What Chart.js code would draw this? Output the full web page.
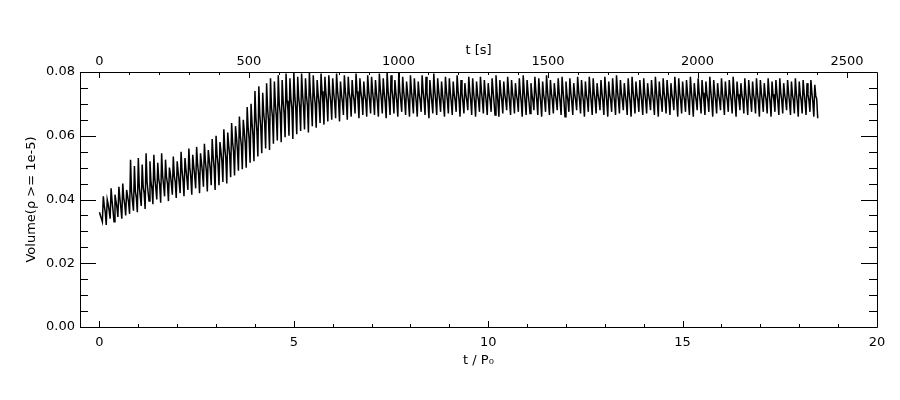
<!DOCTYPE html>
<html>
<head>
<meta charset="utf-8">
<title>Volume vs t / P0</title>
<script src="https://cdn.jsdelivr.net/npm/chart.js@4/dist/chart.umd.min.js"></script>
<style>
  html, body { margin: 0; padding: 0; background: #fff; }
  #wrap { width: 900px; height: 400px; }
</style>
</head>
<body>
<div id="wrap"><canvas id="vol-chart" width="900" height="400"></canvas></div>
<script>
// time between samples, in units of t / P0 (4 samples per oscillation)
const sampleStep = 0.025;
// P0 in seconds, for the top axis
const periodP0 = 130;

const xTicks = [0, 5, 10, 15, 20];
const xTopTicks = [0, 500, 1000, 1500, 2000, 2500];
const yTicks = [0.00, 0.02, 0.04, 0.06, 0.08];

// one value per oscillation
const volPeak = [
  0.0360,0.0410,0.0400,0.0435,0.0415,0.0440,0.0450,0.0430,0.0525,0.0505,
  0.0530,0.0510,0.0545,0.0520,0.0540,0.0515,0.0545,0.0525,0.0500,0.0535,
  0.0520,0.0550,0.0530,0.0560,0.0540,0.0565,0.0545,0.0575,0.0555,0.0590,
  0.0600,0.0580,0.0620,0.0610,0.0640,0.0630,0.0660,0.0650,0.0690,0.0700,
  0.0740,0.0755,0.0735,0.0765,0.0780,0.0770,0.0790,0.0775,0.0795,0.0780,
  0.0800,0.0785,0.0795,0.0780,0.0800,0.0790,0.0775,0.0795,0.0785,0.0790,
  0.0780,0.0795,0.0770,0.0790,0.0785,0.0775,0.0795,0.0780,0.0770,0.0790,
  0.0785,0.0775,0.0795,0.0780,0.0800,0.0790,0.0775,0.0800,0.0785,0.0770,
  0.0790,0.0780,0.0770,0.0790,0.0785,0.0775,0.0795,0.0780,0.0770,0.0785,
  0.0780,0.0770,0.0790,0.0775,0.0765,0.0785,0.0780,0.0770,0.0785,0.0775,
  0.0765,0.0780,0.0790,0.0775,0.0770,0.0785,0.0775,0.0765,0.0780,0.0790,
  0.0775,0.0765,0.0785,0.0780,0.0770,0.0790,0.0775,0.0765,0.0780,0.0785,
  0.0770,0.0780,0.0765,0.0785,0.0775,0.0770,0.0785,0.0780,0.0765,0.0775,
  0.0785,0.0770,0.0780,0.0790,0.0775,0.0765,0.0780,0.0785,0.0770,0.0775,
  0.0780,0.0765,0.0775,0.0785,0.0770,0.0780,0.0775,0.0765,0.0785,0.0780,
  0.0770,0.0775,0.0785,0.0765,0.0780,0.0775,0.0770,0.0785,0.0775,0.0765,
  0.0780,0.0770,0.0775,0.0785,0.0770,0.0765,0.0780,0.0775,0.0770,0.0780,
  0.0775,0.0765,0.0780,0.0770,0.0775,0.0780,0.0765,0.0775,0.0770,0.0780,
  0.0770,0.0775,0.0765,0.0775,0.0760
];
const volMidHi = [
  0.0350,0.0380,0.0385,0.0395,0.0395,0.0405,0.0405,0.0410,0.0425,0.0425,
  0.0440,0.0440,0.0455,0.0455,0.0465,0.0465,0.0475,0.0470,0.0480,0.0475,
  0.0485,0.0490,0.0495,0.0500,0.0505,0.0510,0.0515,0.0520,0.0525,0.0535,
  0.0540,0.0550,0.0560,0.0570,0.0580,0.0595,0.0600,0.0615,0.0625,0.0640,
  0.0655,0.0665,0.0670,0.0685,0.0690,0.0700,0.0700,0.0710,0.0710,0.0715,
  0.0725,0.0720,0.0730,0.0725,0.0735,0.0730,0.0730,0.0740,0.0735,0.0735,
  0.0735,0.0740,0.0730,0.0740,0.0735,0.0730,0.0740,0.0735,0.0730,0.0740,
  0.0740,0.0735,0.0745,0.0735,0.0740,0.0745,0.0735,0.0740,0.0740,0.0735,
  0.0740,0.0735,0.0730,0.0740,0.0735,0.0735,0.0740,0.0740,0.0730,0.0740,
  0.0735,0.0730,0.0740,0.0735,0.0730,0.0740,0.0735,0.0730,0.0740,0.0735,
  0.0730,0.0740,0.0740,0.0735,0.0730,0.0740,0.0735,0.0730,0.0735,0.0740,
  0.0735,0.0730,0.0740,0.0735,0.0730,0.0740,0.0735,0.0730,0.0735,0.0740,
  0.0730,0.0735,0.0730,0.0740,0.0735,0.0730,0.0740,0.0735,0.0730,0.0735,
  0.0740,0.0730,0.0735,0.0740,0.0735,0.0730,0.0735,0.0740,0.0730,0.0735,
  0.0735,0.0730,0.0735,0.0740,0.0730,0.0735,0.0735,0.0730,0.0740,0.0735,
  0.0730,0.0735,0.0740,0.0730,0.0735,0.0735,0.0730,0.0740,0.0735,0.0730,
  0.0735,0.0730,0.0735,0.0740,0.0730,0.0730,0.0735,0.0735,0.0730,0.0735,
  0.0735,0.0730,0.0735,0.0730,0.0735,0.0735,0.0730,0.0735,0.0730,0.0735,
  0.0730,0.0735,0.0730,0.0735,0.0725
];
const volMidLo = [
  0.0340,0.0360,0.0365,0.0365,0.0375,0.0375,0.0385,0.0390,0.0395,0.0405,
  0.0410,0.0420,0.0425,0.0435,0.0435,0.0445,0.0445,0.0450,0.0450,0.0455,
  0.0455,0.0460,0.0465,0.0470,0.0475,0.0480,0.0485,0.0490,0.0495,0.0500,
  0.0510,0.0520,0.0530,0.0540,0.0550,0.0555,0.0570,0.0575,0.0590,0.0600,
  0.0615,0.0625,0.0640,0.0645,0.0660,0.0660,0.0670,0.0670,0.0680,0.0685,
  0.0685,0.0690,0.0690,0.0695,0.0695,0.0700,0.0700,0.0700,0.0705,0.0705,
  0.0705,0.0710,0.0705,0.0710,0.0715,0.0710,0.0710,0.0715,0.0710,0.0710,
  0.0710,0.0705,0.0715,0.0705,0.0710,0.0715,0.0705,0.0710,0.0710,0.0705,
  0.0710,0.0705,0.0710,0.0710,0.0705,0.0705,0.0710,0.0710,0.0700,0.0710,
  0.0705,0.0710,0.0710,0.0705,0.0710,0.0710,0.0705,0.0710,0.0710,0.0705,
  0.0710,0.0705,0.0705,0.0710,0.0710,0.0705,0.0710,0.0710,0.0705,0.0705,
  0.0705,0.0710,0.0710,0.0705,0.0710,0.0705,0.0710,0.0710,0.0705,0.0705,
  0.0710,0.0705,0.0710,0.0710,0.0705,0.0710,0.0705,0.0710,0.0710,0.0705,
  0.0705,0.0710,0.0705,0.0710,0.0710,0.0705,0.0705,0.0710,0.0710,0.0705,
  0.0710,0.0710,0.0705,0.0705,0.0710,0.0710,0.0705,0.0710,0.0705,0.0710,
  0.0710,0.0705,0.0705,0.0710,0.0710,0.0705,0.0710,0.0705,0.0710,0.0710,
  0.0705,0.0710,0.0710,0.0705,0.0710,0.0710,0.0705,0.0710,0.0710,0.0705,
  0.0710,0.0710,0.0705,0.0710,0.0705,0.0710,0.0710,0.0705,0.0710,0.0705,
  0.0710,0.0705,0.0710,0.0705,0.0715
];
const volTrough = [
  0.0330,0.0320,0.0340,0.0330,0.0345,0.0340,0.0350,0.0355,0.0365,0.0360,
  0.0380,0.0370,0.0395,0.0385,0.0400,0.0390,0.0410,0.0395,0.0415,0.0405,
  0.0420,0.0410,0.0430,0.0415,0.0435,0.0420,0.0440,0.0425,0.0445,0.0430,
  0.0445,0.0455,0.0450,0.0470,0.0475,0.0490,0.0495,0.0500,0.0515,0.0520,
  0.0535,0.0545,0.0560,0.0555,0.0575,0.0585,0.0580,0.0595,0.0600,0.0590,
  0.0605,0.0615,0.0620,0.0610,0.0630,0.0625,0.0640,0.0635,0.0645,0.0650,
  0.0655,0.0645,0.0665,0.0650,0.0660,0.0670,0.0655,0.0665,0.0660,0.0670,
  0.0665,0.0660,0.0670,0.0655,0.0665,0.0670,0.0660,0.0675,0.0665,0.0660,
  0.0670,0.0660,0.0675,0.0665,0.0655,0.0670,0.0665,0.0675,0.0660,0.0670,
  0.0665,0.0675,0.0660,0.0670,0.0680,0.0665,0.0660,0.0675,0.0670,0.0665,
  0.0675,0.0665,0.0660,0.0670,0.0680,0.0665,0.0670,0.0675,0.0660,0.0665,
  0.0670,0.0680,0.0665,0.0660,0.0675,0.0665,0.0670,0.0680,0.0665,0.0660,
  0.0675,0.0665,0.0680,0.0670,0.0660,0.0675,0.0665,0.0670,0.0680,0.0665,
  0.0660,0.0675,0.0665,0.0670,0.0680,0.0665,0.0660,0.0670,0.0675,0.0665,
  0.0670,0.0680,0.0665,0.0660,0.0675,0.0670,0.0665,0.0680,0.0660,0.0670,
  0.0675,0.0665,0.0660,0.0680,0.0670,0.0665,0.0675,0.0660,0.0670,0.0680,
  0.0665,0.0675,0.0670,0.0660,0.0680,0.0670,0.0665,0.0675,0.0670,0.0660,
  0.0675,0.0670,0.0660,0.0675,0.0665,0.0670,0.0680,0.0665,0.0670,0.0660,
  0.0670,0.0665,0.0675,0.0660,0.0655
];

document.addEventListener('DOMContentLoaded', () => {
    const ctx = document.getElementById('vol-chart').getContext('2d');
    const font = { family: '"DejaVu Sans", sans-serif', size: 13 };

    // each oscillation: peak, upper middle, lower middle, trough
    const points = [];
    volPeak.forEach((peak, i) => {
        [peak, volMidHi[i], volMidLo[i], volTrough[i]].forEach(v => {
            points.push({ x: points.length * sampleStep, y: v });
        });
    });

    // frame and inward IDL-style ticks (minor ticks too)
    const idlAxes = {
        id: 'idlAxes',
        afterDatasetsDraw(chart) {
            const c = chart.ctx;
            const a = chart.chartArea;
            const { x, x2, y } = chart.scales;
            const px = v => Math.round(v) + 0.5;
            c.save();
            c.strokeStyle = '#000';
            c.lineWidth = 1;
            c.beginPath();
            c.rect(px(a.left), px(a.top), Math.round(a.right) - Math.round(a.left), Math.round(a.bottom) - Math.round(a.top));
            for (let i = 0; i <= 16; i++) {
                const yy = px(y.getPixelForValue(i * 0.005));
                const len = i % 4 === 0 ? 16 : 8;
                c.moveTo(a.left, yy); c.lineTo(a.left + len, yy);
                c.moveTo(a.right, yy); c.lineTo(a.right - len, yy);
            }
            for (let i = 0; i <= 20; i++) {
                const xx = px(x.getPixelForValue(i));
                const len = i % 5 === 0 ? 6 : 3;
                c.moveTo(xx, a.bottom); c.lineTo(xx, a.bottom - len);
            }
            for (let i = 0; i * 100 < x2.max; i++) {
                const xx = px(x2.getPixelForValue(i * 100));
                const len = i % 5 === 0 ? 6 : 3;
                c.moveTo(xx, a.top); c.lineTo(xx, a.top + len);
            }
            c.stroke();
            c.restore();
        }
    };

    const noGrid = { display: false, drawTicks: false };

    new Chart(ctx, {
        type: 'line',
        data: {
            datasets: [{
                label: 'Volume',
                data: points,
                borderColor: '#000',
                borderWidth: 1.5,
                pointRadius: 0,
                tension: 0,
                fill: false
            }]
        },
        options: {
            responsive: false,
            animation: false,
            devicePixelRatio: 1,
            parsing: false,
            normalized: true,
            layout: { padding: { left: 0, right: 23, top: 0, bottom: 0 } },
            plugins: {
                legend: { display: false },
                tooltip: { enabled: false }
            },
            scales: {
                x: {
                    type: 'linear',
                    position: 'bottom',
                    min: -0.5,
                    max: 20,
                    afterBuildTicks: s => { s.ticks = xTicks.map(v => ({ value: v })); },
                    afterFit: s => { s.height = 73; },
                    grid: noGrid,
                    border: { display: false },
                    ticks: { color: '#000', font, padding: 8, maxRotation: 0, autoSkip: false, callback: v => String(v) },
                    title: { display: true, text: 't / P₀', color: '#000', font, padding: { top: 0, bottom: 32 } }
                },
                x2: {
                    type: 'linear',
                    position: 'top',
                    min: -0.5 * periodP0,
                    max: 20 * periodP0,
                    afterBuildTicks: s => { s.ticks = xTopTicks.map(v => ({ value: v })); },
                    afterFit: s => { s.height = 72; },
                    grid: noGrid,
                    border: { display: false },
                    ticks: { color: '#000', font, padding: 3, maxRotation: 0, autoSkip: false, callback: v => String(v) },
                    title: { display: true, text: 't [s]', color: '#000', font, padding: { top: 43, bottom: 0 } }
                },
                y: {
                    type: 'linear',
                    min: 0,
                    max: 0.08,
                    afterBuildTicks: s => { s.ticks = yTicks.map(v => ({ value: v })); },
                    afterFit: s => { s.width = 80; },
                    grid: noGrid,
                    border: { display: false },
                    ticks: { color: '#000', font, padding: 5, callback: v => v.toFixed(2) },
                    title: { display: true, text: 'Volume(ρ >= 1e-5)', color: '#000', font, padding: { top: 24, bottom: 0 } }
                }
            }
        },
        plugins: [idlAxes]
    });
});
</script>
</body>
</html>
